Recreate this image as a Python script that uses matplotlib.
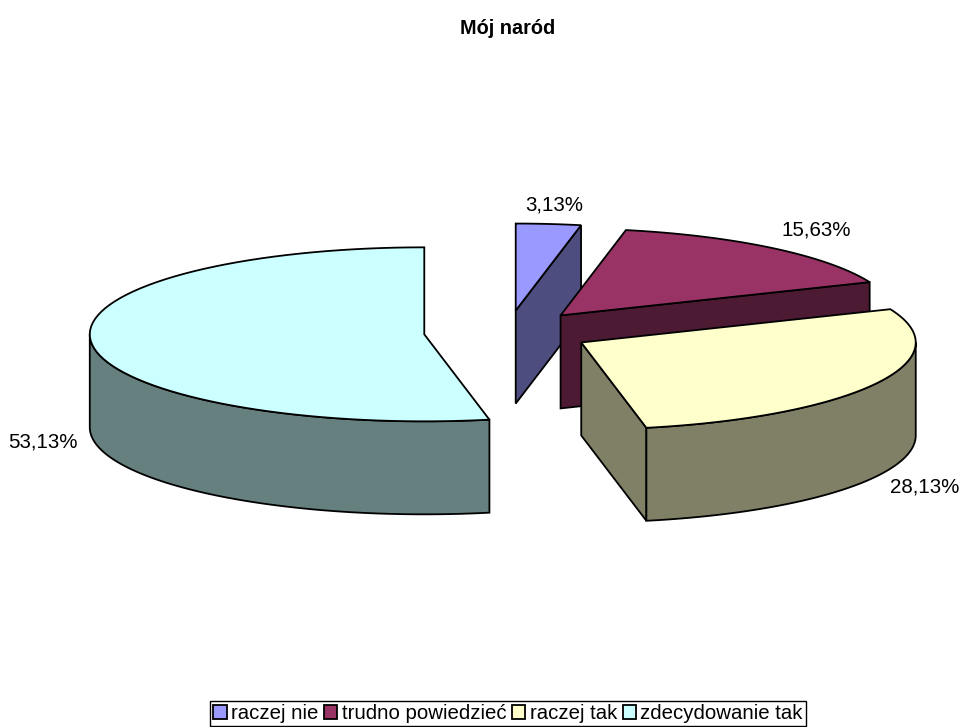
import numpy as np
from matplotlib import pyplot as plt
from matplotlib.patches import Patch, Polygon

labels = ['raczej nie', 'trudno powiedzieć', 'raczej tak', 'zdecydowanie tak']
values = [3.13, 15.63, 28.13, 53.13]
value_labels = ['3,13%', '15,63%', '28,13%', '53,13%']
top_colors = ['#9999FF', '#993366', '#FFFFCC', '#CCFFFF']
side_colors = ['#4D4D80', '#4D1A33', '#808066', '#668080']
label_pos = [(554, 205), (816, 230), (925, 487), (43, 442)]

plt.rcParams['font.family'] = ['Liberation Sans', 'DejaVu Sans']

# pie geometry in pixels
cx, cy = 507.5, 332.2
rx, ry = 334.5, 87
depth = 93
explode = 0.25


def rim(a0, a1, ox, oy):
    t = np.radians(np.linspace(a0, a1, 80))
    return np.column_stack([ox + rx * np.sin(t), oy - ry * np.cos(t)])


def face(pts, color, zorder):
    ax.add_patch(Polygon(pts, closed=True, facecolor=color, edgecolor='black', lw=1.3, zorder=zorder))


fig = plt.figure(figsize=(9.59, 7.27), dpi=100)
ax = fig.add_axes([0, 0, 1, 1])
ax.set_xlim(0, 959)
ax.set_ylim(727, 0)
ax.axis('off')

total = sum(values)
edges = np.concatenate([[0], np.cumsum(values)]) / total * 360
# far slice first so the nearer ones cover it
order = [3, 0, 1, 2]
for z, i in enumerate(order):
    a0, a1 = edges[i], edges[i + 1]
    mid = np.radians((a0 + a1) / 2)
    ox = cx + explode * rx * np.sin(mid)
    oy = cy - explode * ry * np.cos(mid)
    zb = 10 * z + 1
    # flat side at the end of the slice
    if 0 < a1 < 180:
        end = rim(a1, a1, ox, oy)[0]
        face([(ox, oy), end, end + (0, depth), (ox, oy + depth)], side_colors[i], zb)
    # outer wall, only the front half shows
    w0, w1 = max(a0, 90), min(a1, 270)
    if w1 > w0:
        arc = rim(w0, w1, ox, oy)
        face(np.vstack([arc, (arc + (0, depth))[::-1]]), side_colors[i], zb + 1)
    face(np.vstack([[(ox, oy)], rim(a0, a1, ox, oy)]), top_colors[i], zb + 2)

for txt, (x, y) in zip(value_labels, label_pos):
    ax.text(x, y, txt, fontsize=14.8, ha='center', va='center', color='black')

ax.text(507.5, 28.5, 'Mój naród', fontsize=14.3, fontweight='bold', ha='center', va='center')

handles = [Patch(facecolor=c, edgecolor='black', lw=1.3) for c in top_colors]
leg = fig.legend(handles, labels, ncol=4, loc='center', bbox_to_anchor=(508 / 959, 1 - 713.5 / 727),
                 fontsize=14.7, frameon=True, fancybox=False, edgecolor='black', framealpha=1,
                 handlelength=0.65, handleheight=0.7, handletextpad=0.2, columnspacing=0.3,
                 borderpad=0.15, borderaxespad=0)
leg.get_frame().set_linewidth(1)

fig.savefig('out.png', dpi=100)
